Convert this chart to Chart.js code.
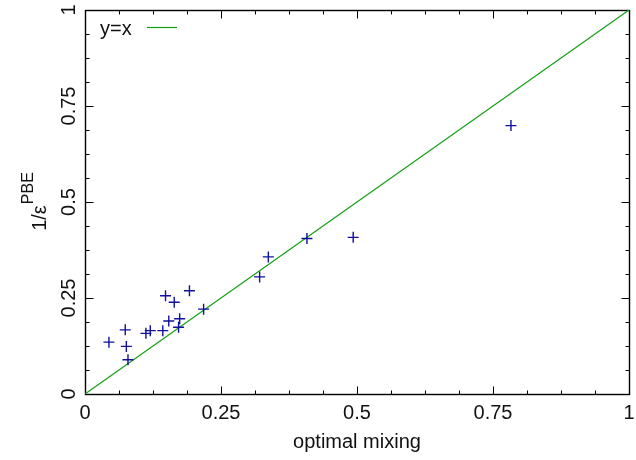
<!DOCTYPE html>
<html lang="en">
<head>
  <meta charset="UTF-8" />
  <title>optimal mixing vs 1/eps PBE</title>
  <script src="https://cdn.jsdelivr.net/npm/chart.js"></script>
  <style>
    html, body { margin: 0; padding: 0; background: #fff; }
    #wrap { width: 636px; height: 460px; position: relative; }
  </style>
</head>
<body>
<div id="wrap"><canvas id="chart"></canvas></div>
<script>
  // values
  const optimalMixing = [0.044, 0.074, 0.076, 0.079, 0.112, 0.120, 0.143, 0.148, 0.154, 0.164,
                         0.172, 0.174, 0.192, 0.218, 0.321, 0.337, 0.408, 0.493, 0.783];
  const invEpsPBE     = [0.135, 0.167, 0.124, 0.089, 0.158, 0.165, 0.165, 0.256, 0.190, 0.239,
                         0.174, 0.196, 0.269, 0.221, 0.305, 0.357, 0.405, 0.408, 0.699];
  const lineX = [0, 1];
  const lineY = [0, 1];
  const majorTicks = [0, 0.25, 0.5, 0.75, 1];
  const tickLabels = ['0', '0.25', '0.5', '0.75', '1'];

  const FONT = '"Liberation Sans", Arial, Helvetica, sans-serif';
  const GREEN = '#14a014';
  const BLUE = '#10109c';

  const points = optimalMixing.map((x, i) => ({ x: x, y: invEpsPBE[i] }));
  const diag = lineX.map((x, i) => ({ x: x, y: lineY[i] }));

  // gnuplot-like frame, inward ticks, rotated y labels and inside legend
  const frame = {
    id: 'frame',
    beforeDatasetsDraw(chart) {
      const { ctx, chartArea: a, scales: { x, y } } = chart;
      ctx.save();
      ctx.strokeStyle = '#000';
      ctx.lineWidth = 1;
      const L = Math.round(a.left) + 0.5, R = Math.round(a.right) + 0.5;
      const T = Math.round(a.top) + 0.5, B = Math.round(a.bottom) + 0.5;
      ctx.beginPath();
      for (let v = 0; v <= 1.0001; v += 0.0625) {
        const major = Math.abs(v * 4 - Math.round(v * 4)) < 1e-6;
        const len = major ? 8 : 4;
        const px = Math.round(x.getPixelForValue(v)) + 0.5;
        const py = Math.round(y.getPixelForValue(v)) + 0.5;
        ctx.moveTo(px, B); ctx.lineTo(px, B - len);
        ctx.moveTo(px, T); ctx.lineTo(px, T + len);
        ctx.moveTo(L, py); ctx.lineTo(L + len, py);
        ctx.moveTo(R, py); ctx.lineTo(R - len, py);
      }
      ctx.stroke();
      ctx.lineWidth = 1.4;
      ctx.strokeRect(L, T, R - L, B - T);

      ctx.fillStyle = '#111';
      ctx.font = '20px ' + FONT;
      ctx.textAlign = 'center';
      ctx.textBaseline = 'middle';
      majorTicks.forEach((v, i) => {
        ctx.fillText(tickLabels[i], x.getPixelForValue(v), 413);
        ctx.save();
        ctx.translate(69, y.getPixelForValue(v));
        ctx.rotate(-Math.PI / 2);
        ctx.fillText(tickLabels[i], 0, 0);
        ctx.restore();
      });
      ctx.fillText('optimal mixing', (a.left + a.right) / 2, 442);

      // y title: 1/ε with superscript PBE
      ctx.save();
      ctx.translate(38, (a.top + a.bottom) / 2);
      ctx.rotate(-Math.PI / 2);
      ctx.textAlign = 'left';
      const base = '1/\u03b5', sup = 'PBE';
      ctx.font = '20px ' + FONT;
      const wb = ctx.measureText(base).width;
      ctx.font = '16px ' + FONT;
      const ws = ctx.measureText(sup).width;
      const start = -(wb + ws) / 2;
      ctx.font = '20px ' + FONT;
      ctx.fillText(base, start, 2);
      ctx.font = '16px ' + FONT;
      ctx.fillText(sup, start + wb + 1, -9);
      ctx.restore();

      // legend
      ctx.font = '20px ' + FONT;
      ctx.textAlign = 'left';
      ctx.fillText('y=x', 100, 29);
      ctx.strokeStyle = GREEN;
      ctx.lineWidth = 1.2;
      ctx.beginPath();
      ctx.moveTo(147, 27.5); ctx.lineTo(177, 27.5);
      ctx.stroke();
      ctx.restore();
    }
  };

  new Chart(document.getElementById('chart'), {
    type: 'scatter',
    data: {
      datasets: [
        {
          label: 'y=x',
          type: 'line',
          data: diag,
          borderColor: GREEN,
          borderWidth: 1.2,
          pointRadius: 0,
          fill: false,
          order: 2
        },
        {
          label: 'data',
          data: points,
          pointStyle: 'cross',
          pointRadius: 5.5,
          pointHoverRadius: 5.5,
          borderColor: BLUE,
          backgroundColor: BLUE,
          borderWidth: 1.4,
          order: 1
        }
      ]
    },
    options: {
      responsive: true,
      maintainAspectRatio: false,
      animation: false,
      layout: { padding: { left: 85, right: 7, top: 10, bottom: 66 } },
      plugins: { legend: { display: false }, tooltip: { enabled: false } },
      scales: {
        x: { type: 'linear', min: 0, max: 1, display: false },
        y: { type: 'linear', min: 0, max: 1, display: false }
      }
    },
    plugins: [frame]
  });
</script>
</body>
</html>
